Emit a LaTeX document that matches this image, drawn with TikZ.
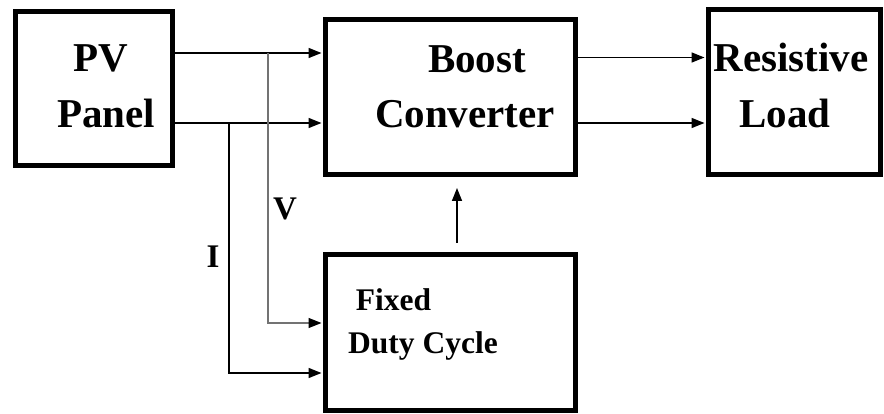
\documentclass[tikz,border=0pt]{standalone}
\usepackage{fontspec}
\setmainfont{Liberation Serif}
\usetikzlibrary{arrows.meta}
\begin{document}
\begin{tikzpicture}[x=1pt,y=-1pt,
  blk/.style={draw,line width=5pt,inner sep=0pt,rectangle},
  txt/.style={anchor=base,inner sep=0pt,font=\fontsize{41}{49}\selectfont\bfseries},
  stxt/.style={anchor=base,inner sep=0pt,font=\fontsize{31.5}{38}\selectfont\bfseries},
  lbl/.style={anchor=base,inner sep=0pt,font=\fontsize{33}{39}\selectfont\bfseries},
  arr/.style={line width=1.5pt,-{Triangle[length=13pt,width=10pt]},shorten >=1pt},
  varr/.style={line width=1.4pt,draw=black!55,-{Triangle[length=13pt,width=10pt,color=black]},shorten >=1pt}]
\useasboundingbox (0,0) rectangle (884,414);
% blocks
\node[blk,minimum width=157pt,minimum height=154.5pt] (pv) at (93.5,88.75) {};
\node[blk,minimum width=250pt,minimum height=155pt] (bc) at (450,97) {};
\node[blk,minimum width=172pt,minimum height=164.5pt] (rl) at (794,92.25) {};
\node[blk,minimum width=250pt,minimum height=155.5pt] (fd) at (450,332.25) {};
% texts
\node[txt] (t1) at (101,72) {PV};
\node[txt] (t2) at (106,128) {Panel};
\node[txt] (t3) at (477,73) {Boost};
\node[txt] (t4) at (465,128) {Converter};
\node[txt] (t5) at (791,72) {Resistive};
\node[txt] (t6) at (785,128) {Load};
\node[stxt] (t7) at (393.5,310) {Fixed};
\node[stxt] (t8) at (423,353) {Duty Cycle};
\node[lbl] (lv) at (285,220) {V};
\node[lbl] (li) at (213,268) {I};
% helper coordinates
\coordinate (ya) at (0,53);
\coordinate (yb) at (0,123);
\coordinate (yc) at (0,57.5);
\coordinate (vtop) at (268,53);
\coordinate (vbot) at (268,323);
\coordinate (itop) at (229,123);
\coordinate (ibot) at (229,373);
\coordinate (u1) at (457,243);
\coordinate (u2) at (457,187);
% connectors
\draw[arr] (pv.east |- ya) -- (bc.west |- ya);
\draw[arr] (pv.east |- yb) -- (bc.west |- yb);
\draw[arr] (bc.east |- yc) -- (rl.west |- yc);
\draw[arr] (bc.east |- yb) -- (rl.west |- yb);
\draw[varr] (vtop) -- (vbot) -- (fd.west |- vbot);
\draw[arr] (itop) -- (ibot) -- (fd.west |- ibot);
\draw[arr] (u1) -- (u2);
\end{tikzpicture}
\end{document}
